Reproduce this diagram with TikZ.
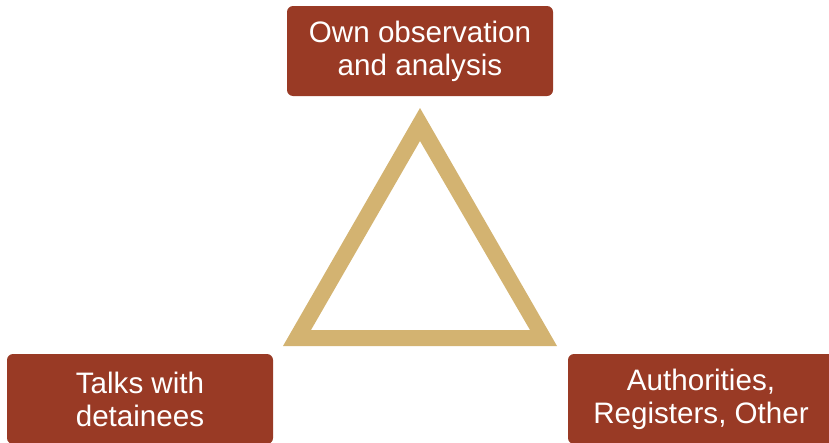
\documentclass[tikz,border=0pt]{standalone}
\usepackage{fontspec}
\usepackage{tikz}
\newfontfamily\boxfont{Liberation Sans}
\definecolor{rust}{RGB}{153,58,37}
\definecolor{sand}{RGB}{211,179,113}

\begin{document}
\begin{tikzpicture}[x=1pt, y=-1pt, source node/.style={rectangle, rounded corners=6pt, fill=rust, text=white, minimum width=266pt, minimum height=90pt, align=center, inner sep=0pt, font=\boxfont\fontsize{29.6}{33}\selectfont}]
        \useasboundingbox (0,0) rectangle (829,442);
        \clip (0,0) rectangle (829,442);

        \node[source node] (own) at (420,51) {Own observation\\and analysis};
        \node[source node] (talks) at (140,399) {Talks with\\detainees};
        \node[source node] (auth) at (701,399) {Authorities,\\Registers, Other};

        % triangle between the three sources
        \fill[sand, even odd rule]
        (420,108) -- (283,346) -- (557,346) -- cycle
        (420,141) -- (311,330) -- (530,330) -- cycle;

    \end{tikzpicture}
\end{document}
